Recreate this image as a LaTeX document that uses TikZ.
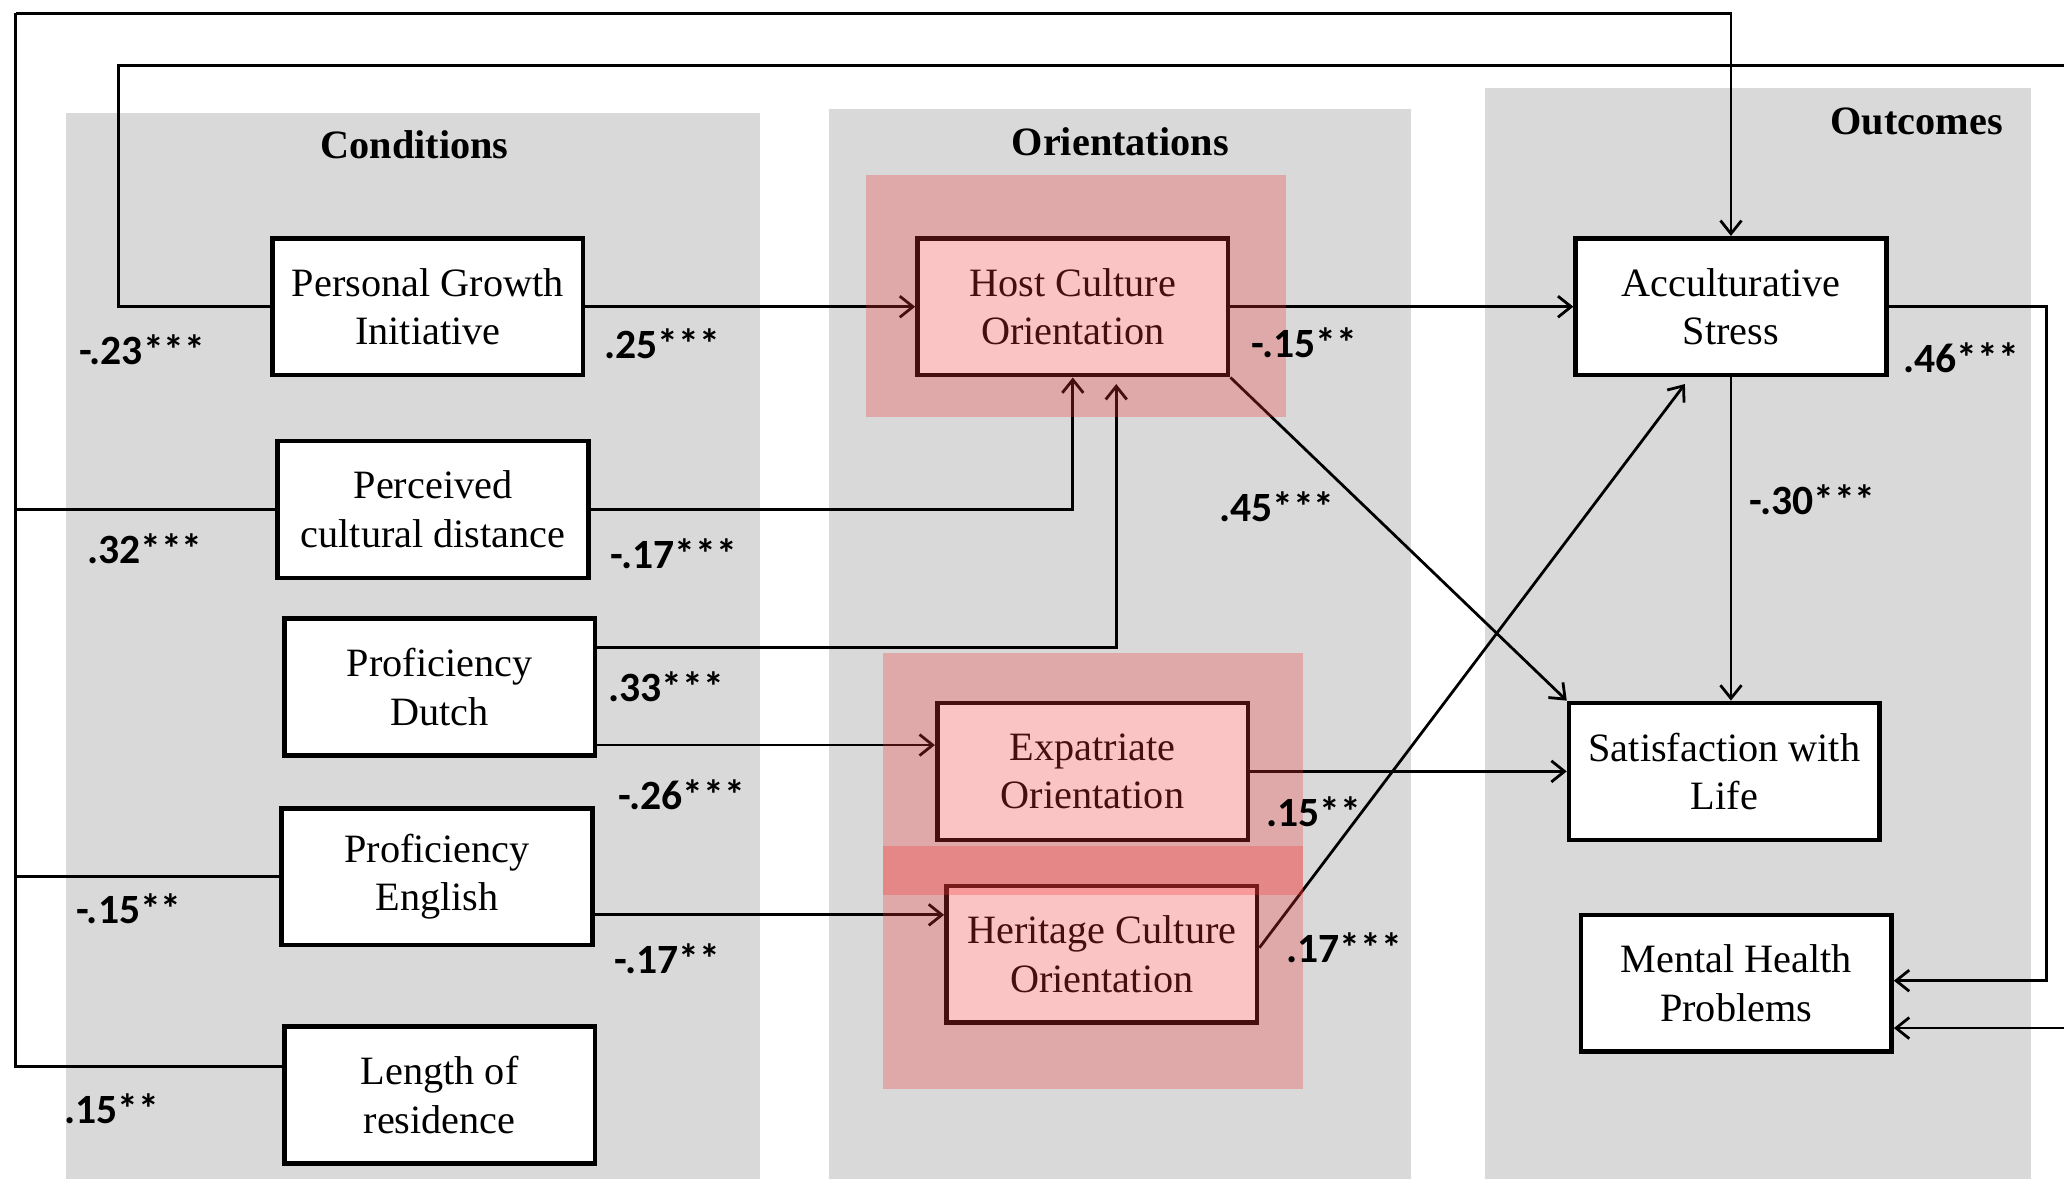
\documentclass[tikz,border=0pt]{standalone}
\usepackage{fontspec}
\setmainfont{Liberation Serif}
\newfontfamily\coeffont{Carlito}
\usetikzlibrary{arrows.meta,calc}
\definecolor{acgray}{HTML}{D9D9D9}
\definecolor{acred}{RGB}{242,53,53}
\tikzset{
  var/.style={draw=black, line width=1pt, fill=white, minimum width=23.6mm, minimum height=10.4mm, inner sep=0pt, align=center, font=\fontsize{8.7}{10.5}\selectfont},
  col/.style={fill=acgray, draw=none},
  hilite/.style={fill=acred, fill opacity=0.29, draw=none},
  arr/.style={-{Straight Barb[length=1mm,width=1.6mm]}, line width=0.6pt},
  wire/.style={line width=0.6pt},
  coef/.style={font=\coeffont\bfseries\fontsize{9}{10}\selectfont},
  ttl/.style={font=\bfseries\fontsize{8.7}{10}\selectfont},
}

\begin{document}
\begin{tikzpicture}[x=0.1mm, y=-0.1mm]
  \useasboundingbox (0,0) rectangle (1568,896);
  \fill[col] (50,86) rectangle (577,896);
  \fill[col] (630,83) rectangle (1072,896);
  \fill[col] (1128,67) rectangle (1543,896);
  \node[ttl] (tcond) at (315,110) {Conditions};
  \node[ttl] (torient) at (851,108) {Orientations};
  \node[ttl] (tout) at (1456,92) {Outcomes};

  \node[var] (pgi) at (325,233) {Personal Growth\\Initiative};
  \node[var] (pcd) at (329,387) {Perceived\\cultural distance};
  \node[var] (pd) at (334,522) {Proficiency\\Dutch};
  \node[var] (pe) at (332,666) {Proficiency\\English};
  \node[var] (lr) at (334,832) {Length of\\residence};
  \node[var] (hco) at (815,233) {Host Culture\\Orientation};
  \node[var] (eo) at (830,586) {Expatriate\\Orientation};
  \node[var] (hero) at (837,725) {Heritage Culture\\Orientation};
  \node[var] (as) at (1315,233) {Acculturative\\Stress};
  \node[var] (swl) at (1310,586) {Satisfaction with\\Life};
  \node[var] (mhp) at (1319,747) {Mental Health\\Problems};

  \coordinate (ltop) at (12,10);
  \coordinate (rtop) at (1568,50);
  \coordinate (rbot) at (1568,781);
  \draw[wire] (ltop) -- ($(lr.west -| ltop)+(0,-22)$) -- ($(lr.west)+(0,-22)$);
  \draw[wire] (pcd.west -| ltop) -- (pcd.west); \draw[wire] (pe.west -| ltop) -- (pe.west);
  \draw[arr] (ltop) -| (as.north);
  \draw[wire] (pgi.west) -- ++(-115,0) |- (rtop);
  \draw[arr] (rbot) -- (rbot -| mhp.east);
  \draw[arr] (as.east) -- ++(120,0) |- ($(mhp.east)+(0,-2)$);

  \path ($(pd.east)+(0,44)$) coordinate (pdlo) ($(pe.east)+(0,29)$) coordinate (pelo);
  \draw[arr] (pgi) -- (hco); \draw[arr] (pcd.east) -| (hco.south);
  \draw[arr] ($(pd.east)+(0,-30)$) -| ($(hco.south)+(33,5)$);
  \draw[arr] (pdlo) -- (pdlo -| eo.west); \draw[arr] (pelo) -- (pelo -| hero.west);
  \draw[arr] (hco) -- (as); \draw[arr] (hco.south east) -- (swl.north west);
  \draw[arr] (eo) -- (swl); \draw[arr] ($(hero.east)+(0,-5)$) -- ($(as.south)+(-35,5)$);
  \draw[arr] (as.south) -- (as.south |- swl.north);

  \fill[hilite] (658,133) rectangle (977,317);
  \fill[hilite] (671,496) rectangle (990,680);
  \fill[hilite] (671,643) rectangle (990,827);

  \node[coef] (c1) at (108,266) {-.23***};
  \node[coef] (c2) at (503,261) {.25***};
  \node[coef] (c3) at (110,417) {.32***};
  \node[coef] (c4) at (512,421) {-.17***};
  \node[coef] (c5) at (506,522) {.33***};
  \node[coef] (c6) at (518,604) {-.26***};
  \node[coef] (c7) at (98,690) {-.15**};
  \node[coef] (c8) at (507,728) {-.17**};
  \node[coef] (c9) at (85,842) {.15**};
  \node[coef] (c10) at (991,260) {-.15**};
  \node[coef] (c11) at (970,385) {.45***};
  \node[coef] (c12) at (998,617) {.15**};
  \node[coef] (c13) at (1021,720) {.17***};
  \node[coef] (c14) at (1490,272) {.46***};
  \node[coef] (c15) at (1377,380) {-.30***};
\end{tikzpicture}
\end{document}
